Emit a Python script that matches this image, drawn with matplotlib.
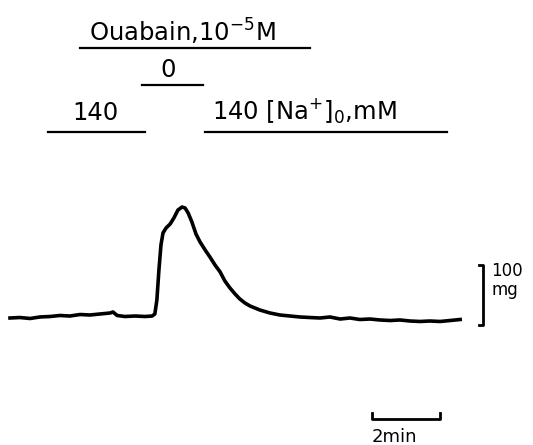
import numpy as np
import matplotlib.pyplot as plt

# isometric tension trace (time in min, tension in mg above baseline)
time_min = [0, 0.29, 0.59, 0.88, 1.18, 1.47, 1.76, 2.06, 2.35, 2.65, 2.94, 3.03,
            3.15, 3.38, 3.68, 3.97, 4.18, 4.26, 4.32, 4.38, 4.44, 4.50, 4.59, 4.71,
            4.82, 4.94, 5.06, 5.15, 5.24, 5.35, 5.47, 5.59, 5.74, 5.88, 6.03, 6.18,
            6.32, 6.47, 6.62, 6.76, 6.91, 7.06, 7.35, 7.65, 7.94, 8.24, 8.53, 8.82,
            9.12, 9.41, 9.71, 10.0, 10.29, 10.59, 10.88, 11.18, 11.47, 11.76, 12.06,
            12.35, 12.65, 12.94, 13.24]
tension_mg = [0, 0.8, -0.8, 1.7, 2.5, 4.2, 3.3, 5.8, 5.0, 6.7, 8.3, 10.0,
              4.2, 2.5, 3.3, 2.5, 3.3, 6.7, 30, 80, 121.7, 141.7, 150, 156.7,
              166.7, 180, 185, 183.3, 175, 160, 140, 126.7, 113.3, 101.7, 88.3, 76.7,
              61.7, 50, 40, 31.7, 25, 20, 13.3, 8.3, 5.0, 3.3, 1.7, 0.8,
              0, 1.7, -1.7, 0, -2.5, -1.7, -3.3, -4.2, -3.3, -5.0, -5.8,
              -5.0, -5.8, -4.2, -2.5]

# solution periods (start, end) in min
ouabain_period = (2.06, 8.82)
na_zero_period = (3.88, 5.68)
na_140_before = (1.12, 3.97)
na_140_after = (5.74, 12.85)

# calibration bars
cal_force_mg = 100
cal_time_min = 2

px_per_min = 34
px_per_mg = 0.6

fig = plt.figure(figsize=(5.33, 4.45), dpi=100)
ax = fig.add_axes([0, 0, 1, 1])
ax.set_xlim(-10 / px_per_min, 523 / px_per_min)
ax.set_ylim((318 - 445) / px_per_mg, 318 / px_per_mg)
ax.axis('off')

ax.plot(time_min, tension_mg, color='black', lw=2.6, solid_joinstyle='round')

fs = 17.5
bar_kw = dict(color='black', lw=1.6)

# top bars and labels
ax.plot(ouabain_period, [450, 450], **bar_kw)
ax.text(2.32, 460, r'Ouabain,10$^{-5}$M', fontsize=fs, va='baseline')
ax.plot(na_zero_period, [388, 388], **bar_kw)
ax.text(4.65, 402, '0', fontsize=fs, va='baseline', ha='center')
ax.plot(na_140_before, [310, 310], **bar_kw)
ax.text(1.82, 330, '140', fontsize=fs, va='baseline')
ax.plot(na_140_after, [310, 310], **bar_kw)
ax.text(5.94, 330, r'140 $[\mathrm{Na}^{+}]_{0}$,mM', fontsize=fs, va='baseline')

# force calibration
xb = 13.91
yb0 = -11
ax.plot([xb - 0.12, xb, xb, xb - 0.12], [yb0, yb0, yb0 + cal_force_mg, yb0 + cal_force_mg],
        color='black', lw=2)
ax.text(xb + 0.25, yb0 + 90, str(cal_force_mg), fontsize=12, va='center')
ax.text(xb + 0.25, yb0 + 58, 'mg', fontsize=12, va='center')

# time calibration
tb0 = 10.65
yt = -168
ax.plot([tb0, tb0, tb0 + cal_time_min, tb0 + cal_time_min], [yt + 10, yt, yt, yt + 10],
        color='black', lw=2)
ax.text(tb0, yt - 30, f'{cal_time_min}min', fontsize=13, va='center')

fig.savefig('out.png', dpi=100)
